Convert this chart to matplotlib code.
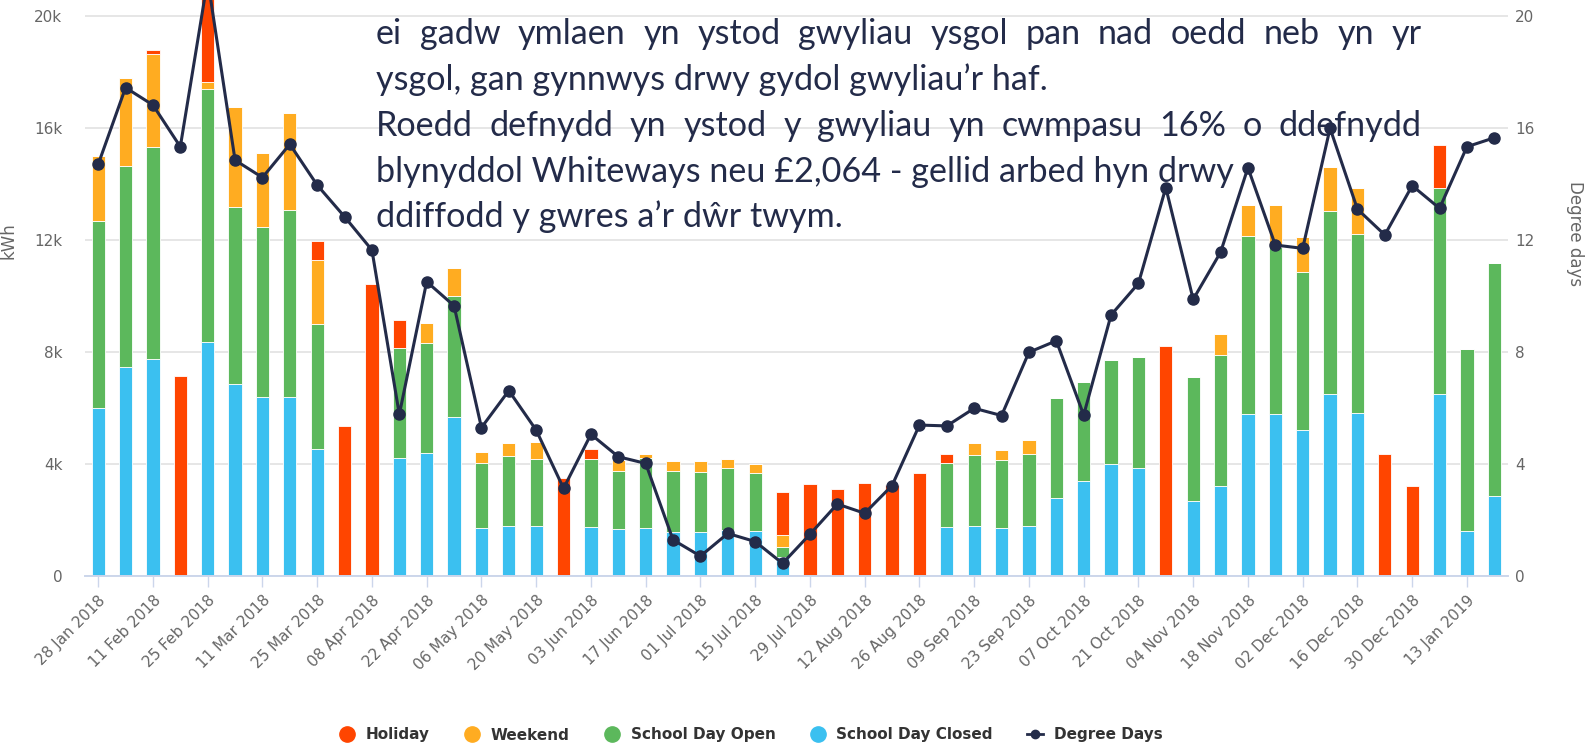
import numpy as np
import matplotlib
matplotlib.use("Agg")
import matplotlib.pyplot as plt
from matplotlib.lines import Line2D
from matplotlib.font_manager import FontProperties

# ---------------- data ----------------
tick_labels = ["28 Jan 2018", "11 Feb 2018", "25 Feb 2018", "11 Mar 2018", "25 Mar 2018",
               "08 Apr 2018", "22 Apr 2018", "06 May 2018", "20 May 2018", "03 Jun 2018",
               "17 Jun 2018", "01 Jul 2018", "15 Jul 2018", "29 Jul 2018", "12 Aug 2018",
               "26 Aug 2018", "09 Sep 2018", "23 Sep 2018", "07 Oct 2018", "21 Oct 2018",
               "04 Nov 2018", "18 Nov 2018", "02 Dec 2018", "16 Dec 2018", "30 Dec 2018",
               "13 Jan 2019"]

school_day_closed = [5990, 7480, 7750, 0, 8370, 6850, 6400, 6400, 4520, 0, 0, 4200, 4380, 5670,
                     1700, 1800, 1800, 0, 1760, 1670, 1700, 1560, 1560, 1650, 1620, 680, 0, 0,
                     0, 0, 0, 1760, 1800, 1700, 1800, 2770, 3400, 3990, 3850, 0, 2680, 3230,
                     5770, 5770, 5210, 6490, 5830, 0, 0, 6490, 1620, 2860]
school_day_open = [6700, 7170, 7560, 0, 9030, 6320, 6080, 6670, 4480, 0, 0, 3950, 3930, 4330,
                   2320, 2500, 2370, 0, 2410, 2080, 2500, 2190, 2170, 2200, 2070, 340, 0, 0,
                   0, 0, 0, 2260, 2510, 2440, 2560, 3600, 3540, 3720, 3960, 0, 4420, 4660,
                   6370, 5980, 5660, 6560, 6370, 0, 0, 7360, 6490, 8310]
weekend = [2310, 3150, 3330, 0, 240, 3570, 2640, 3450, 2290, 0, 0, 0, 740, 990,
           400, 460, 630, 0, 0, 390, 160, 370, 390, 320, 310, 440, 0, 0,
           0, 0, 0, 0, 430, 360, 500, 0, 0, 0, 0, 0, 0, 750,
           1110, 1500, 1230, 1570, 1650, 0, 0, 0, 0, 0]
holiday = [0, 0, 150, 7150, 3560, 0, 0, 0, 690, 5370, 10430, 990, 0, 0,
           0, 0, 0, 3500, 350, 0, 0, 0, 0, 0, 0, 1530, 3290, 3100,
           3330, 3250, 3670, 340, 0, 0, 0, 0, 0, 0, 0, 8230, 0, 0,
           0, 0, 0, 0, 0, 4350, 3210, 1540, 0, 0]
degree_days = [14.70, 17.44, 16.82, 15.33, 21.3, 14.85, 14.23, 15.42, 13.96, 12.83, 11.64,
               5.77, 10.51, 9.65, 5.30, 6.62, 5.21, 3.13, 5.06, 4.26, 4.02,
               1.29, 0.71, 1.52, 1.23, 0.45, 1.49, 2.57, 2.24, 3.23, 5.39,
               5.36, 5.99, 5.73, 7.99, 8.40, 5.75, 9.32, 10.45, 13.87, 9.88,
               11.56, 14.58, 11.82, 11.70, 15.99, 13.10, 12.18, 13.94, 13.13, 15.33, 15.65]

kwh_ticks = [0, 4000, 8000, 12000, 16000, 20000]
kwh_tick_labels = ["0", "4k", "8k", "12k", "16k", "20k"]
dd_ticks = [0, 4, 8, 12, 16, 20]
dd_tick_labels = ["0", "4", "8", "12", "16", "20"]

text_lines = [
    ("ei gadw ymlaen yn ystod gwyliau ysgol pan nad oedd neb yn yr", True),
    ("ysgol, gan gynnwys drwy gydol gwyliau\u2019r haf.", False),
    ("Roedd defnydd yn ystod y gwyliau yn cwmpasu 16% o ddefnydd", True),
    ("blynyddol Whiteways neu \u00a32,064 - gellid arbed hyn drwy", False),
    ("ddiffodd y gwres a\u2019r d\u0175r twym.", False),
]

C_HOL = "#ff4500"
C_WKD = "#ffac21"
C_OPEN = "#5cb85c"
C_CLOSED = "#3bc0f0"
C_DD = "#232b49"

# ---------------- figure ----------------
W, H = 1587, 749
fig = plt.figure(figsize=(W / 100, H / 100), dpi=100)
fig.patch.set_facecolor("white")

left_px, right_px, bottom_px = 84.5, 1508, 576
ax = fig.add_axes([left_px / W, 1 - bottom_px / H, (right_px - left_px) / W, bottom_px / H])
ax.set_facecolor("none")

x = np.arange(len(holiday))
closed = np.array(school_day_closed, float)
opened = np.array(school_day_open, float)
wkd = np.array(weekend, float)
hol = np.array(holiday, float)

bw = 0.48
kw = dict(width=bw, edgecolor="white", linewidth=0.6, zorder=2)
ax.bar(x, closed, color=C_CLOSED, **kw)
ax.bar(x, opened, bottom=closed, color=C_OPEN, **kw)
ax.bar(x, wkd, bottom=closed + opened, color=C_WKD, **kw)
ax.bar(x, hol, bottom=closed + opened + wkd, color=C_HOL, **kw)

ax.set_xlim(-0.5, len(holiday) - 0.5)
ymax = 20570
ax.set_ylim(0, ymax)
ax.set_yticks(kwh_ticks)
ax.set_yticklabels(kwh_tick_labels)
ax.yaxis.grid(True, color="#e6e6e6", linewidth=1.4, zorder=0)
ax.set_axisbelow(True)
for s in ["top", "left", "right"]:
    ax.spines[s].set_visible(False)
ax.spines["bottom"].set_color("#ccd6eb")
ax.spines["bottom"].set_linewidth(1.4)
ax.tick_params(axis="y", length=0, pad=16, labelsize=11, labelcolor="#666666")
ax.set_xticks(np.arange(0, len(holiday), 2))
ax.set_xticklabels(tick_labels, rotation=45, ha="right", rotation_mode="anchor")
ax.tick_params(axis="x", length=8, width=1, color="#ccd6eb", pad=4,
               labelsize=11, labelcolor="#666666")

ax2 = ax.twinx()
ax2.set_ylim(0, ymax / 1000)
ax2.set_yticks(dd_ticks)
ax2.set_yticklabels(dd_tick_labels)
ax2.tick_params(axis="y", length=0, pad=5, labelsize=11, labelcolor="#666666")
for s in ax2.spines.values():
    s.set_visible(False)
ax2.plot(x, degree_days, color=C_DD, linewidth=2.2, marker="o", markersize=8, zorder=5)

fig.text(9 / W, 1 - 241 / H, "kWh", rotation=90, ha="center", va="center",
         color="#666666", fontsize=12)
fig.text(1575 / W, 1 - 234 / H, "Degree days", rotation=270, ha="center", va="center",
         color="#666666", fontsize=12)

# ---------------- overlay text ----------------
fam = ["Lato", "DejaVu Sans"]
renderer = fig.canvas.get_renderer()


def measure(s, size):
    t = fig.text(0, 0, s, fontproperties=FontProperties(family=fam, size=size))
    w = t.get_window_extent(renderer).width
    t.remove()
    return w


targets = {1: 683, 3: 849, 4: 466}
ratios = [targets[i] / measure(text_lines[i][0], 20) for i in targets]
tsize = 20 * float(np.mean(ratios))
fp = FontProperties(family=fam, size=tsize)

x_left, x_right = 376, 1422
baselines = [43.5, 89.5, 135.5, 181.5, 227.0]
txt_color = "#232b49"
for (line, justify), b in zip(text_lines, baselines):
    yf = 1 - b / H
    if justify:
        words = line.split(" ")
        widths = [measure(w_, tsize) for w_ in words]
        gap = (x_right - x_left - sum(widths)) / (len(words) - 1)
        xp = x_left
        for w_, wd in zip(words, widths):
            ax2.text(xp / W, yf, w_, transform=fig.transFigure, fontproperties=fp,
                     color=txt_color, ha="left", va="baseline", zorder=1, clip_on=False)
            xp += wd + gap
    else:
        ax2.text(x_left / W, yf, line, transform=fig.transFigure, fontproperties=fp,
                 color=txt_color, ha="left", va="baseline", zorder=1, clip_on=False)

# ---------------- legend ----------------
handles = [
    Line2D([], [], marker="o", linestyle="none", color=C_HOL, markersize=11),
    Line2D([], [], marker="o", linestyle="none", color=C_WKD, markersize=11),
    Line2D([], [], marker="o", linestyle="none", color=C_OPEN, markersize=11),
    Line2D([], [], marker="o", linestyle="none", color=C_CLOSED, markersize=11),
    Line2D([], [], marker="o", color=C_DD, linewidth=2, markersize=6),
]
labels = ["Holiday", "Weekend", "School Day Open", "School Day Closed", "Degree Days"]
fig.legend(handles, labels, loc="center", bbox_to_anchor=(751 / W, 1 - 735 / H), ncol=5,
           frameon=False, prop=FontProperties(family="DejaVu Sans", weight="bold", size=11),
           handlelength=1.0, handletextpad=0.74, columnspacing=2.25, labelcolor="#333333")

fig.savefig("out.png", dpi=100, facecolor="white")
